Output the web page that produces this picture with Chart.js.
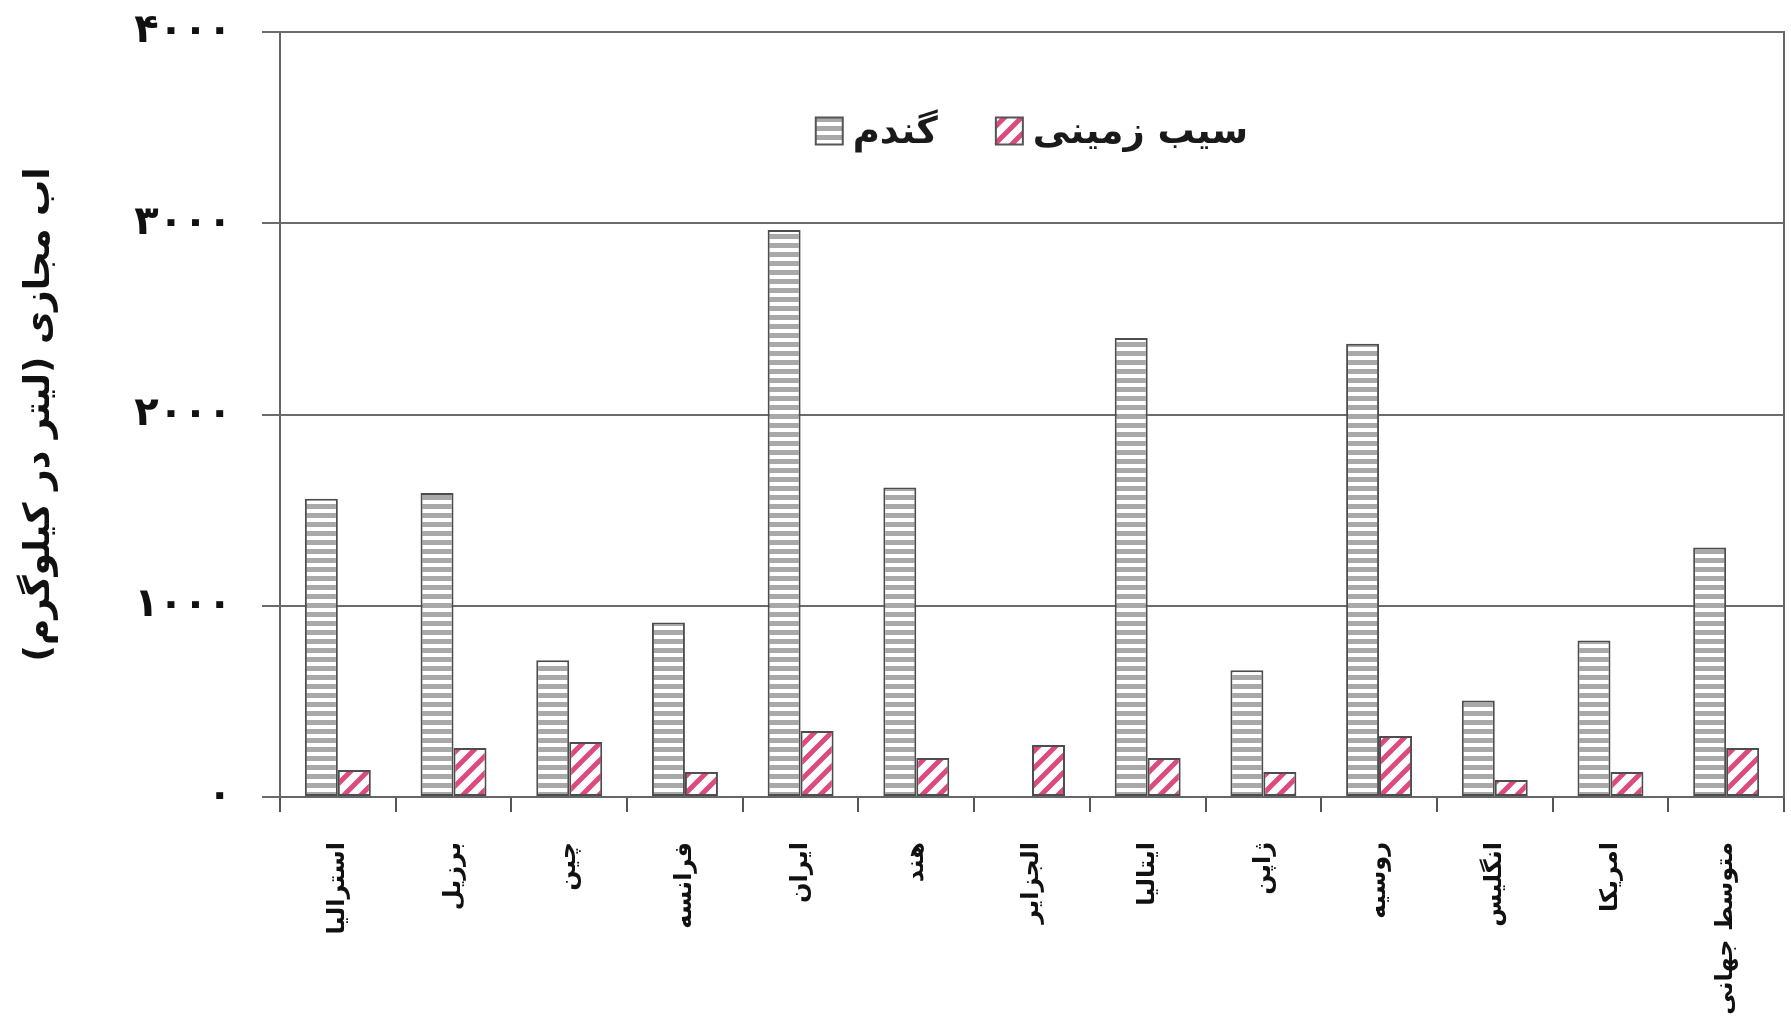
<!DOCTYPE html>
<html lang="fa">
<head>
<meta charset="utf-8">
<script src="https://cdn.jsdelivr.net/npm/chart.js@4.4.1/dist/chart.umd.min.js"></script>
<style>
  html, body { margin: 0; padding: 0; background: #fff; }
  #nemudar { display: block; }
</style>
</head>
<body>
<canvas id="nemudar" width="1791" height="1034"></canvas>
<script>
// داده‌ها: آب مجازی گندم و سیب زمینی در هر کشور (لیتر در کیلوگرم)
const keshvarha = ['استرالیا', 'برزیل', 'چین', 'فرانسه', 'ایران', 'هند', 'الجزایر', 'ایتالیا', 'ژاپن', 'روسیه', 'انگلیس', 'امریکا', 'متوسط جهانی'];
const gandom = [1560, 1590, 715, 912, 2965, 1618, null, 2400, 663, 2370, 505, 818, 1305];
const sibZamini = [141, 256, 288, 131, 345, 204, 272, 204, 131, 319, 89, 131, 256];
const namSeri = ['گندم', 'سیب زمینی'];
const barchasbY = ['۰', '۱۰۰۰', '۲۰۰۰', '۳۰۰۰', '۴۰۰۰'];
const onvanY = 'اب مجازی (لیتر در کیلوگرم)';

const FONT = "'DejaVu Sans', sans-serif";
const canvas = document.getElementById('nemudar');
const ctx = canvas.getContext('2d');

// الگوی راه راه افقی خاکستری برای گندم
function olgoyeGandom() {
  const t = document.createElement('canvas');
  t.width = 9; t.height = 9;
  const g = t.getContext('2d');
  g.fillStyle = '#ffffff';
  g.fillRect(0, 0, 9, 9);
  g.fillStyle = '#a9a9a9';
  g.fillRect(0, 0, 9, 5);
  return ctx.createPattern(t, 'repeat');
}

// الگوی هاشور مورب صورتی برای سیب زمینی
function olgoyeSib() {
  const s = 17;
  const t = document.createElement('canvas');
  t.width = s; t.height = s;
  const g = t.getContext('2d');
  g.fillStyle = '#ffffff';
  g.fillRect(0, 0, s, s);
  g.strokeStyle = '#dc4a80';
  g.lineWidth = 5;
  g.beginPath();
  g.moveTo(-2, s + 2); g.lineTo(s + 2, -2);
  g.moveTo(-2, 2); g.lineTo(2, -2);
  g.moveTo(s - 2, s + 2); g.lineTo(s + 2, s - 2);
  g.stroke();
  return ctx.createPattern(t, 'repeat');
}

// قاب سمت راست ناحیه نمودار
const kadr = {
  id: 'kadr',
  beforeDatasetsDraw(chart) {
    const { top, bottom, right } = chart.chartArea;
    const c = chart.ctx;
    c.save();
    c.strokeStyle = '#666';
    c.lineWidth = 2;
    c.beginPath();
    c.moveTo(right, top - 1);
    c.lineTo(right, bottom + 1);
    c.stroke();
    c.restore();
  }
};

// راهنما داخل ناحیه نمودار، بالای میله‌ها
const rahnama = {
  id: 'rahnama',
  afterDraw(chart) {
    const c = chart.ctx;
    const area = chart.chartArea;
    const box = 27, fasele = 10, bein = 58;
    c.save();
    c.font = 'bold 37px ' + FONT;
    c.textBaseline = 'middle';
    c.textAlign = 'left';
    const items = chart.data.datasets.map(ds => ({
      label: ds.label,
      fill: ds.backgroundColor,
      w: c.measureText(ds.label).width
    }));
    const kol = items.reduce((a, it) => a + box + fasele + it.w, 0) + bein * (items.length - 1);
    let x = (area.left + area.right) / 2 - kol / 2;
    const y = area.top + 99;
    items.forEach(it => {
      c.fillStyle = it.fill;
      c.fillRect(x, y - box / 2, box, box);
      c.strokeStyle = '#555';
      c.lineWidth = 2;
      c.strokeRect(x, y - box / 2, box, box);
      c.fillStyle = '#1a1a1a';
      c.fillText(it.label, x + box + fasele, y + 2);
      x += box + fasele + it.w + bein;
    });
    c.restore();
  }
};

new Chart(ctx, {
  type: 'bar',
  data: {
    labels: keshvarha,
    datasets: [
      {
        label: namSeri[0],
        data: gandom,
        backgroundColor: olgoyeGandom(),
        borderColor: '#4d4d4d',
        borderWidth: 2,
        borderSkipped: false,
        categoryPercentage: 0.57,
        barPercentage: 1.0
      },
      {
        label: namSeri[1],
        data: sibZamini,
        backgroundColor: olgoyeSib(),
        borderColor: '#4d4d4d',
        borderWidth: 2,
        borderSkipped: false,
        categoryPercentage: 0.57,
        barPercentage: 1.0
      }
    ]
  },
  options: {
    responsive: false,
    animation: false,
    devicePixelRatio: 1,
    layout: { padding: { top: 32, right: 7, bottom: 0, left: 0 } },
    plugins: {
      legend: { display: false },
      tooltip: { enabled: false }
    },
    scales: {
      x: {
        offset: true,
        grid: {
          offset: true,
          drawOnChartArea: false,
          color: '#555',
          lineWidth: 2,
          tickLength: 15
        },
        border: { display: true, color: '#666', width: 2 },
        ticks: {
          autoSkip: false,
          minRotation: 90,
          maxRotation: 90,
          padding: 30,
          color: '#111',
          font: { family: FONT, size: 24, weight: 'bold' }
        },
        afterFit(scale) { scale.height = 237; }
      },
      y: {
        min: 0,
        max: 4000,
        ticks: {
          stepSize: 1000,
          padding: 30,
          color: '#111',
          font: { family: FONT, size: 40, weight: 'bold' },
          callback: (v) => barchasbY[v / 1000]
        },
        grid: {
          color: '#6b6b6b',
          lineWidth: 2,
          tickLength: 18
        },
        border: { display: true, color: '#666', width: 2 },
        title: {
          display: true,
          text: onvanY,
          color: '#111',
          padding: { top: 18, bottom: 0 },
          font: { family: FONT, size: 36, weight: 'bold' }
        },
        afterFit(scale) {
          // عرض ثابت محور و حذف فاصله اضافی بالا و پایین که از برچسب‌ها می‌آید
          scale.width = 280;
          scale.paddingTop = 0;
          scale.paddingBottom = 0;
        }
      }
    }
  },
  plugins: [kadr, rahnama]
});
</script>
</body>
</html>
